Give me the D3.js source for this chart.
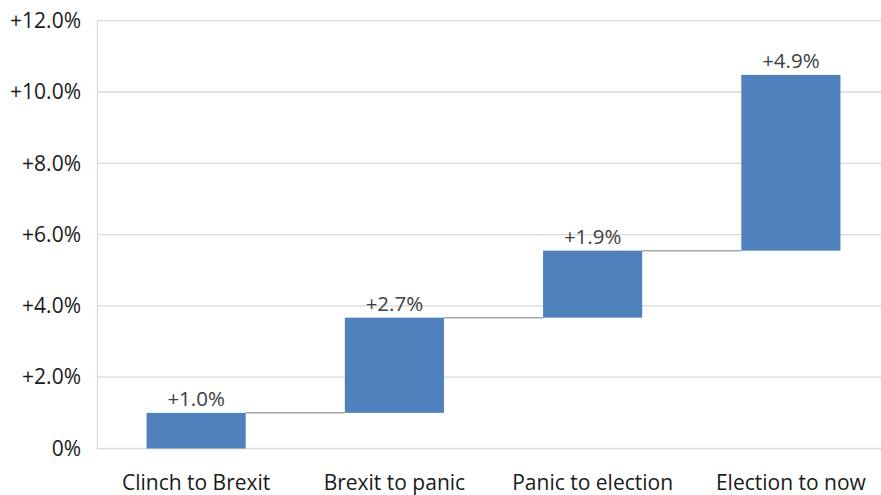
<!DOCTYPE html>
<html><head><meta charset="utf-8">
<script src="https://cdn.jsdelivr.net/npm/d3@7"></script>
<style>body{margin:0;background:#fff;overflow:hidden}</style>
</head><body>
<svg id="c" width="881" height="495"></svg>
<script>
const categories = ["Clinch to Brexit","Brexit to panic","Panic to election","Election to now"];
const changes = [1.0, 2.67, 1.88, 4.93];
const changeLabels = ["+1.0%","+2.7%","+1.9%","+4.9%"];
const yTicks = [0,2,4,6,8,10,12];

const svg = d3.select("#c");
const font = "'Open Sans', sans-serif";
const x = d3.scaleBand().domain(categories).range([97, 890]).paddingInner(0.5).paddingOuter(0.25);
const y = d3.scaleLinear().domain([0,12]).range([448.5, 20.7]);

let cum = 0;
const data = categories.map((c,i)=>{const s=cum; cum+=changes[i]; return {c, start:s, end:cum, label:changeLabels[i]};});

// gridlines
svg.append("g").selectAll("line").data(yTicks.filter(d=>d>0)).join("line")
  .attr("x1",97).attr("x2",881).attr("y1",d=>y(d)).attr("y2",d=>y(d))
  .attr("stroke","#d9d9d9").attr("stroke-width",1.3);

// y axis
const yAxis = d3.axisLeft(y).tickValues(yTicks).tickSize(0).tickPadding(16)
  .tickFormat(d=> d===0 ? "0%" : "+"+d.toFixed(1)+"%");
const gy = svg.append("g").attr("transform","translate(97,0)").call(yAxis);
gy.select(".domain").attr("stroke","#d9d9d9").attr("stroke-width",1.3);
gy.selectAll("text").attr("font-family",font).attr("font-size",21).attr("fill","#1a1a1a");

// x axis baseline
const xAxis = d3.axisBottom(x).tickSize(0).tickPadding(27);
const gx = svg.append("g").attr("transform",`translate(0,${y(0)})`).call(xAxis);
gx.select(".domain").attr("stroke","#d9d9d9").attr("stroke-width",1.3).attr("d","M97,0H881");
gx.selectAll("text").attr("font-family",font).attr("font-size",21).attr("fill","#1a1a1a");

// connectors
svg.append("g").selectAll("line").data(data.slice(0,-1)).join("line")
  .attr("x1",(d)=>x(d.c)+x.bandwidth())
  .attr("x2",(d,i)=>x(categories[i+1]))
  .attr("y1",d=>y(d.end)).attr("y2",d=>y(d.end))
  .attr("stroke","#a6a6a6").attr("stroke-width",1.5);

// bars
svg.append("g").selectAll("rect").data(data).join("rect")
  .attr("x",d=>x(d.c)).attr("width",x.bandwidth())
  .attr("y",d=>y(d.end)).attr("height",d=>y(d.start)-y(d.end))
  .attr("fill","#4f81bd");

// value labels
svg.append("g").selectAll("text").data(data).join("text")
  .attr("x",d=>x(d.c)+x.bandwidth()/2).attr("y",d=>y(d.end)-7)
  .attr("text-anchor","middle").attr("font-family",font).attr("font-size",20.5)
  .attr("fill","#404040").text(d=>d.label);
</script>
</body></html>
